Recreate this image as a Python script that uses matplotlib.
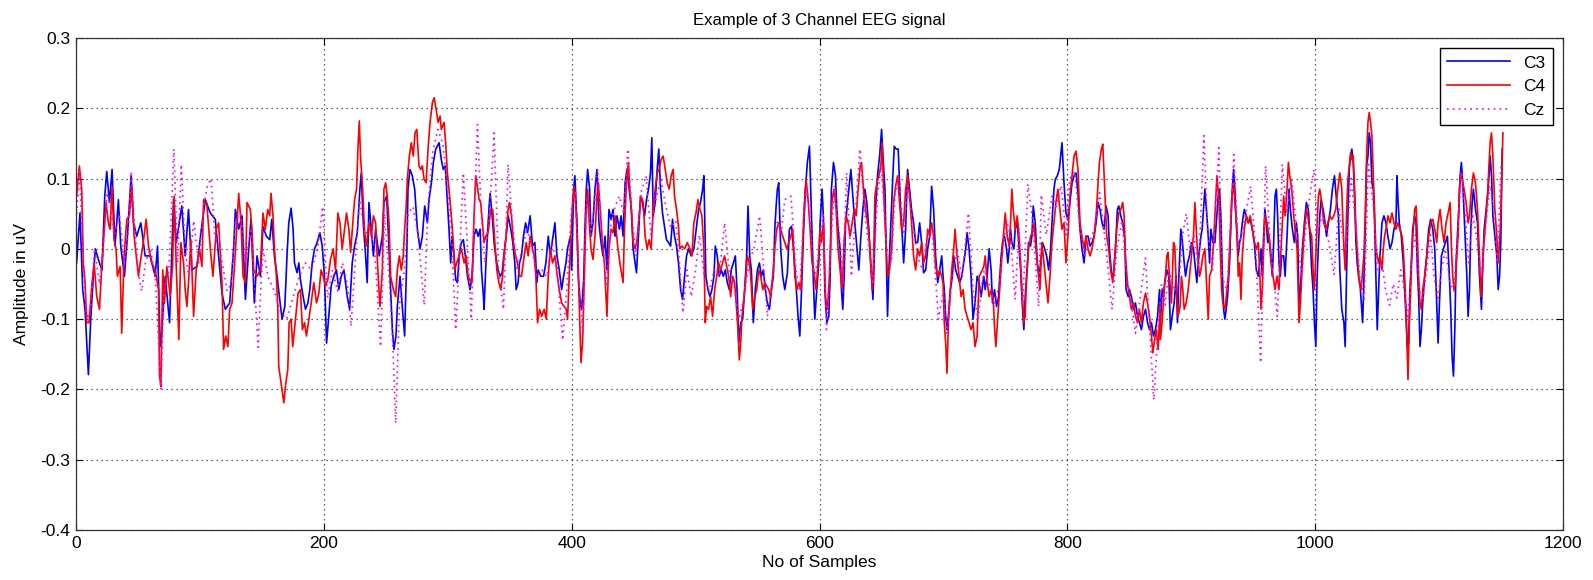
import matplotlib
matplotlib.use("Agg")
import matplotlib.pyplot as plt

plt.rcParams['font.family'] = ['Liberation Sans', 'DejaVu Sans']

title = "Example of 3 Channel EEG signal"
xlabel = "No of Samples"
ylabel = "Amplitude in uV"
channel_names = ["C3", "C4", "Cz"]
xticks = [0, 200, 400, 600, 800, 1000, 1200]
yticks = [-0.4, -0.3, -0.2, -0.1, 0, 0.1, 0.2, 0.3]

# (sample index, amplitude)
c3_points = [
    (0.5,-0.02),(3.2,0.051),(5.4,-0.058),(7.3,-0.086),(10,-0.179),(11.9,-0.10),(14,-0.039),(15.6,0),
    (18.9,-0.02),(21,-0.03),(23.2,0.075),(24.8,0.11),(27,0.066),(29.1,0.113),(31.5,0.004),(34.2,0.07),
    (36.1,0.004),(39.1,-0.039),(41.5,0.018),(44.5,0.104),(46.4,0.037),(49,0.018),(52.3,0.037),(55.8,-0.01),
    (59.8,-0.01),(63.9,-0.039),(65.8,0.004),(67.9,-0.134),(68.5,-0.139),(72,-0.039),(75.5,-0.105),(78.7,0.07),
    (80.9,0.009),(85.4,0.061),(88.1,-0.01),(90.8,0.056),(93.5,-0.03),(97.6,-0.025),(100.8,0.023),(104.3,0.07),
    (108.4,0.051),(112.4,0.042),(115.6,-0.02),(117.8,-0.063),(120.5,-0.086),(124,-0.077),(127.2,0),(128.6,0.056),
    (131.3,0.028),(134,0.047),(136.7,-0.072),(139.4,0),(141.2,0.042),(143.9,-0.077),(146.1,-0.01),(148.8,-0.039),
    (150.9,0.032),(153.6,0.018),(156.3,0.013),(158,0.042),(160.1,-0.01),(162.3,-0.039),(164.4,-0.072),(166.3,-0.1),
    (168.5,-0.082),(170.4,-0.005),(171.7,0.037),(173.6,0.058),(175.2,0.028),(176.3,-0.02),(178.4,-0.034),(179.8,-0.02),
    (181.1,-0.044),(183.3,-0.068),(185.2,-0.086),(187.1,-0.077),(188.7,-0.058),(190.6,-0.02),(192.5,0),(194.6,0.009),
    (196.8,0.023),(198.7,0.004),(200.5,-0.039),(202.2,-0.134),(204,-0.096),(205.9,-0.053),(208.1,-0.039),(210.2,-0.03),
    (212.1,-0.058),(214,-0.039),(216.2,-0.03),(218.9,-0.068),(220.8,-0.086),(222.9,-0.02),(224.8,0.004),(227,0.023),
    (229.1,0.085),(230.2,0.108),(231.8,0.037),(233.7,-0.01),(235,-0.048),(236.4,0.066),(238.3,0.028),(240,-0.01),
    (241.8,0.028),(243.1,0.009),(244.7,-0.01),(247.2,0.018),(248.5,0.066),(250.7,0.075),(252.6,0),(253.9,-0.058),
    (255.3,-0.115),(256.6,-0.143),(258.2,-0.124),(259.3,-0.082),(261.5,-0.039),(263.3,-0.082),(265.2,-0.124),(266.8,-0.02),
    (267.9,0.085),(269.5,0.113),(271.4,0.104),(273.3,0.085),(275.5,0.028),(277.6,0),(279.5,0.018),(281.4,0.061),
    (283.6,0.037),(284.9,0.07),(286.8,0.094),(288.4,0.123),(290.3,0.142),(293,0.151),
    (294.8,0.127),(296.4,0.113),(298,0.118),(299.7,0.066),(301,0.028),(302.4,-0.02),(303.5,0.018),(305.1,-0.01),
    (306.4,-0.044),(307.8,-0.048),(309.4,-0.005),(311,0.009),(312.6,0.013),(314.2,-0.01),(315.9,-0.039),(318,-0.058),
    (319.6,-0.039),(321.2,0.018),(322.9,0.028),(324.5,0.018),(326.1,0.028),(327.2,-0.03),(328.8,-0.068),(329.3,-0.086),
    (330.7,-0.025),(332,0.018),(333.4,0.061),(334.2,0.079),(336.1,0.042),(337.4,0.009),(339,-0.015),(340.6,-0.03),
    (342.3,-0.039),(343.9,-0.034),(345.5,-0.005),(347.1,0.018),(348.7,0.047),(350.9,0.028),(352.5,0.009),(354.1,-0.02),
    (355.2,-0.058),(356.8,-0.048),(357.9,-0.02),(359.5,-0.01),(361.1,0.018),(362.8,0.037),(364.4,0.023),(366.5,0.047),
    (368.4,0.004),(370.3,0.009),(371.9,-0.048),(373,-0.03),(375.1,-0.039),(377.3,-0.039),(379.2,-0.02),(381.1,0.018),
    (382.7,-0.01),(384.6,0.013),(386.5,0.037),(388.1,-0.01),(390,-0.03),(391.9,-0.058),(393.5,-0.039),(395.4,-0.02),
    (396.7,0),(398.9,0.018),(400,-0.03),(401.6,0.085),(402.6,0.104),(404.3,0.037),(405.3,-0.039),(406.9,-0.077),
    (408,-0.086),(409.7,-0.044),(410.7,0.028),(411.8,0.085),(412.9,0.113),(414.5,0.085),(415.6,0.018),(417.2,0.037),
    (418.8,0.085),(420.4,0.113),(422,0.037),(423.7,0.009),(425.3,-0.01),(426.9,0.018),(428.5,-0.03),(430.1,0.056),
    (431.8,0.042),(433.4,0.056),(435,0.018),(436.6,0.047),(438.5,0.028),
    (439.9,0.047),(441.5,0.018),(443.1,0.094),(444.7,0.113),(446.4,0.085),(448,0.061),(449.6,0),(451.2,-0.02),
    (452.3,-0.034),(453.9,0.018),(455.5,0.075),(457.1,0.066),(458.8,0.047),(460.4,0.07),(462,0.085),(463.6,0.108),
    (464.7,0.158),(465.8,0.047),(467.4,0.066),(469,0.113),(470.3,0.142),(471.7,0.085),(473.3,0.051),(474.9,0.032),
    (476.5,0.013),(478.2,0.009),(479.8,0.004),(481.4,0.042),(483,0.018),(484.6,0.004),(486.2,-0.02),(487.9,-0.058),
    (489.5,-0.072),(491.1,-0.039),(492.7,-0.01),(494.3,0),(496.5,-0.01),(498.6,0),(500.5,0.028),(502.4,0.056),
    (504,0.066),(505.7,0.085),(506.7,0.104),(508.3,-0.039),(510,-0.058),(511.6,-0.068),(513.2,-0.058),(514.8,-0.039),
    (515.9,0.004),(517.5,-0.01),(519.1,-0.039),(520.7,-0.03),(522.4,-0.039),(524,-0.03),(525.6,-0.048),(527.2,-0.058),
    (528.8,-0.03),(530.5,-0.02),(532.1,-0.01),(533.7,-0.068),(534.8,-0.134),(536.4,-0.105),(538,-0.1),(539.6,-0.058),
    (541.2,-0.01),(542.3,0.061),(543.7,-0.01),(545,-0.03),(546.6,-0.105),(548.2,-0.058),(549.9,-0.03),(551.5,-0.02),
    (553.1,-0.039),(554.7,-0.03),(556.3,-0.058),(557.9,-0.077),(559.6,-0.086),(561.2,-0.058),(562.8,-0.039),(563.9,0.028),
    (565,0.061),(566,0.085),(567.1,0.094),(568.7,0),(570.3,-0.039),(572,-0.058),(574.1,-0.034),(575.7,0.028),
    (577.4,0.032),(579,0),(580.6,-0.039),(582.7,-0.096),(584.1,-0.124),
    (585.4,-0.063),(587,0.018),(588.6,0.085),(590.2,0.123),(591.9,0.146),(592.9,0.085),(594,0.018),(595.1,-0.048),
    (596.2,-0.1),(597.8,-0.058),(599.4,-0.02),(600.5,0.037),(602.1,0.085),(603.2,0.042),(604.3,-0.058),(605.9,-0.105),
    (607.5,-0.096),(608.6,-0.039),(609.6,0.085),(611.3,0.123),(612.9,0.104),(614,0.056),(615,0.028),(616.6,0),
    (617.7,-0.058),(618.8,-0.086),(619.9,-0.039),(621,0.037),(622.6,0.066),(624.2,0.094),(625.3,0.113),(626.9,0.075),
    (628.5,0.037),(630.1,0.004),(631.7,-0.03),(633.4,0.018),(635,0.056),(636.6,0.085),(638.2,0.066),(639.8,0.028),
    (640.9,-0.01),(642,-0.039),(643.1,-0.072),(644.1,-0.02),(645.2,0.056),(646.8,0.104),(648.5,0.132),(650.1,0.17),
    (651.2,0.132),(652.8,0.085),(653.9,-0.01),(654.9,-0.096),(656,-0.03),(657.6,0.037),(659.2,0.104),(660.3,0.146),
    (661.9,0.142),(663.5,0.142),(665.2,0.066),(666.8,0.018),(667.9,-0.02),(669.5,0.028),(671.1,0.113),(672.7,0.085),
    (674.3,0.056),(675.9,0.037),(677.6,0.009),(679.2,0.009),(680.8,0.037),(682.4,0.009),(684,-0.034),(685.7,-0.03),
    (687.3,0),(688.9,0.018),(690.5,0.089),(692.1,0.056),(693.7,-0.01),(695.4,-0.048),(697,-0.03),(698.6,-0.01),
    (699.7,-0.039),(700.7,-0.058),(701.8,-0.096),(702.9,-0.115),(704,-0.096),(705.6,-0.058),(707.2,-0.039),(708.3,-0.01),
    (709.9,-0.03),(711.5,-0.039),(713.1,-0.048),(714.8,-0.039),(716.4,-0.02),(718,0),(719.1,0.023),(720.7,0),
    (722.3,-0.039),(723.9,-0.1),(725.5,-0.077),(727.2,-0.039),(728.8,-0.048),(730.4,-0.068),
    (732.6,-0.039),(733.7,-0.058),(735.3,-0.039),(736.9,0),(738.5,-0.03),(739.6,-0.077),(741.2,-0.058),(742.9,-0.082),
    (744.5,-0.068),(745.5,-0.039),(746.6,-0.01),(747.7,0.009),(749.3,0.018),(750.9,0),(752,-0.02),(753.1,0),
    (754.2,0.028),(755.2,0.009),(756.9,0),(757.9,0.028),(759.6,0.037),(760.6,0.013),(762.3,-0.03),(763.3,-0.068),
    (764.9,-0.115),(766,-0.068),(767.6,-0.03),(768.7,0.009),(770.3,0.004),(771.4,0.018),(772.5,0.061),(774.1,0.037),
    (775.7,-0.02),(777.3,-0.039),(779,-0.01),(780,0.009),(781.7,0),(783.3,-0.01),(784.9,-0.03),(786.5,0),
    (787.6,0.037),(789.2,0.085),(790.3,0.099),(791.9,0.104),(793.5,0.113),(794.6,0.132),(795.7,0.151),(797.3,0.094),
    (798.9,0.051),(800.5,0.042),(802.1,0.066),(803.8,0.094),(805.4,0.104),(807,0.108),(808.6,0.079),(810.2,0.028),
    (811.8,0),(813.5,-0.02),(815.1,0.018),(816.7,0.018),(818.3,0.004),(819.9,0.009),(821.6,0.018),(823.2,0.037),
    (824.8,0.066),(826.4,0.056),(828,0.037),(829.6,0.028),(831.3,0.061),(832.9,0.047),(834,0),(835.6,-0.034),
    (837.2,-0.039),(838.8,0),(840.4,0.056),(841.5,0.061),(843.1,0.047),(844.7,0.037),(846.4,0.013),(847.4,-0.058),
    (849.1,-0.068),(850.1,-0.058),(851.7,-0.068),(853.4,-0.086),(855,-0.077),(856.6,-0.096),(858.2,-0.105),(859.8,-0.115),
    (861.4,-0.096),(863.1,-0.086),(864.7,-0.105),(866.3,-0.115),(867.9,-0.105),(869.5,-0.124),(871.1,-0.115),(872.8,-0.096),
    (874.4,-0.058),(875.1,-0.105),(876.5,-0.058),
    (877.6,-0.068),(878.6,-0.048),(880.3,-0.03),(881.9,-0.039),(883.2,-0.115),(884.6,-0.096),(886.2,-0.077),(887.8,-0.039),
    (888.9,-0.105),(890,-0.039),(891.6,0.028),(892.7,0.013),(894.3,-0.02),(895.4,-0.039),(897,-0.02),(898.6,-0.01),
    (900.2,0.009),(901.8,0),(902.9,-0.02),(904.5,-0.048),(906.1,-0.01),(907.8,0.018),(908.8,0.028),(909.9,0.056),
    (911,0.085),(912.6,0.047),(913.7,0.018),(914.8,-0.02),(915.8,0.028),(917.5,0.009),(919.1,0.009),(920.2,0.037),
    (921.8,0.075),(922.8,0.085),(923.9,0.047),(925,-0.03),(926.1,-0.086),(927.2,-0.1),(928.2,-0.086),(929.3,-0.068),
    (930.9,-0.02),(932,0.037),(933.1,0.085),(934.2,0.113),(935.2,0.085),(936.3,0.037),(937.9,-0.01),(939,0.009),
    (940.1,0.018),(941.2,0.037),(942.8,0.056),(944.4,0.047),(946,0.037),(947.6,0.042),(949.3,0.028),(950.9,0.009),
    (952.5,-0.03),(954.1,-0.039),(955.2,-0.02),(956.3,0),(957.3,-0.039),(958.4,0.018),(959.5,0.056),(960.6,0.037),
    (961.7,0.009),(962.7,0.018),(964.4,-0.01),(965.4,-0.039),(966.5,0.009),(967.6,0.075),(968.7,0.085),(969.7,0.047),
    (970.8,-0.02),(971.9,-0.039),(973,-0.01),(974.6,-0.01),(975.7,-0.039),(977.3,0.018),(978.9,0.085),(980,0.056),
    (981.6,0.028),(983.2,0.009),(984.8,0.037),(985.9,0.018),(987,-0.077),(988.1,-0.058),(989.7,0),(991.3,0.037),
    (992.9,0.066),(994.5,0.056),(996.2,0.009),(997.2,-0.03),(998.3,-0.058),(999.4,-0.105),(1000.5,-0.139),(1001.6,-0.039),
    (1002.6,0.004),(1003.7,0.047),(1004.8,0.07),(1006.4,0.056),(1008,0.037),(1009.1,0.018),(1010.7,0.037),(1012.3,0.056),
    (1013.9,0.085),(1015.6,0.104),(1017.2,0.07),(1018.8,0.047),(1019.9,-0.03),(1021.5,-0.086),
    (1023.2,-0.105),(1024.2,-0.139),(1025.3,-0.039),(1026.4,0.047),(1027.5,0.113),(1028.6,0.132),(1029.6,0.142),(1030.7,0.123),
    (1031.8,0.075),(1032.9,0.009),(1033.9,-0.02),(1035,-0.039),(1036.1,-0.048),(1037.2,-0.077),(1038.3,-0.105),(1039.3,-0.048),
    (1040.4,0.028),(1041.5,0.118),(1042.6,0.132),(1043.6,0.165),(1044.7,0.151),(1045.8,0.094),(1046.9,0.085),(1048,0.037),
    (1049,-0.039),(1050.1,-0.115),(1051.2,-0.058),(1052.3,-0.01),(1053.9,0.037),(1055.5,0.047),(1057.1,0.037),(1058.7,0.018),
    (1060.4,0),(1062,0.009),(1063.6,0.028),(1065.2,0.037),(1066,0.104),(1066.8,0.07),(1067.9,0.037),(1069.5,0.018),
    (1071.1,-0.02),(1072.2,-0.058),(1073.3,-0.096),(1074.4,-0.139),(1075.5,-0.134),(1076.5,-0.058),(1077.6,-0.02),(1078.7,0.028),
    (1080.3,0.047),(1081.4,0.037),(1082.5,-0.03),(1083.5,-0.068),(1084.6,-0.139),(1085.7,-0.115),(1086.8,-0.077),(1088.4,-0.039),
    (1090,-0.01),(1091.6,0.028),(1093.2,0.042),(1094.9,0.028),(1096.5,0),(1098.1,-0.077),(1099.2,-0.134),(1100.3,-0.077),
    (1101.9,-0.01),(1103.5,0),(1105.1,0.009),(1106.7,0.018),(1108.3,-0.039),(1109.4,-0.086),(1110.5,-0.153),(1111.6,-0.181),
    (1112.7,-0.115),(1113.7,-0.02),(1114.8,0.018),(1115.9,0.056),(1117,0.104),(1118,0.123),(1119.1,0.094),(1120.7,0.028),
    (1122.4,-0.039),(1123.4,-0.096),(1124.5,-0.058),(1125.6,0.028),(1126.7,0.066),(1127.7,0.085),(1129.4,0.056),(1131,0.037),
    (1132.6,-0.039),(1134.2,-0.086),(1135.3,-0.02),(1136.4,0.028),(1138,0.056),(1139.6,0.085),(1141.2,0.132),(1142.3,0.104),
    (1143.4,0.047),(1145,0.018),(1146.6,-0.01),(1147.7,-0.058),(1148.8,-0.039),(1149.8,0.009),(1150.9,0.142),
]

c4_points = [
    (0.5,0.075),(2.7,0.118),(4.6,0.085),(5.9,-0.02),(7.3,-0.048),(8.6,-0.105),(10.5,-0.105),(12.7,-0.053),
    (14.6,-0.02),(16.7,-0.067),(18.9,-0.086),(20.8,-0.025),(22.1,0.009),(24.3,0.066),(26.1,0.037),(27.5,0.028),
    (29.1,0.089),(30.7,0.013),(32.3,0),(33.4,-0.039),(35.6,-0.025),(36.9,-0.12),(38.8,-0.01),(41,0.042),
    (43.1,0.047),(45,0.089),(46.9,0.018),(50.4,-0.039),(51.8,-0.02),(53.9,0.004),(56.6,0.042),(58.5,0.004),
    (61.2,-0.02),(63.9,-0.03),(66.6,-0.058),(67.4,-0.181),(68.5,-0.196),(70,-0.03),(71.4,-0.077),(73.3,-0.025),
    (76,-0.067),(77.9,-0.025),(79.2,0.075),(80.9,-0.025),(82.2,-0.091),(83,-0.129),(84.6,0.009),(86.8,-0.02),
    (88.1,-0.058),(89.5,-0.082),(90.8,-0.048),(92.7,0.013),(94.9,-0.096),(97,-0.03),(99.7,0),(101.6,-0.025),
    (103,0.07),(105.7,0.061),(108.4,0),(110.5,-0.039),(113.2,0.028),(115.1,0.037),(117.8,-0.048),(119.1,-0.143),
    (120.8,-0.124),(122.6,-0.139),(124,-0.086),(125.9,-0.077),(128.6,-0.005),(131.3,0.079),(133.2,0.037),(134.8,-0.039),
    (136.7,-0.048),(138,0.066),(140.7,0.056),(142,0.028),(143.4,-0.03),(146.1,-0.039),(148.8,-0.03),
    (150.9,0.051),(152.8,0.028),(154.7,0.056),(156.3,0.047),(157.4,0.079),(159,0.047),(160.1,0),(161.7,-0.039),
    (162.8,-0.082),(163.6,-0.167),(165.5,-0.191),(167.7,-0.219),(169.3,-0.191),(170.9,-0.172),(172,-0.105),(173.6,-0.1),
    (174.9,-0.139),(176.3,-0.115),(177.9,-0.086),(179.2,-0.063),(181.1,-0.058),(182.7,-0.115),(184.4,-0.105),(186,-0.124),
    (187.9,-0.1),(189.8,-0.077),(191.9,-0.048),(194.1,-0.077),(196,-0.063),(197.8,-0.03),(199.5,-0.039),(201.3,-0.053),
    (203.2,-0.044),(205.4,-0.015),(207.5,0),(209.4,-0.03),(211.3,0.051),(213,0.037),(214.8,0),(216.7,0.028),
    (218.3,0.051),(220.2,0.028),(221.6,-0.005),(223.2,0.032),(224.8,0.07),(226.4,0.085),(227.5,0.142),(228.6,0.182),
    (229.6,0.132),(231.3,0.085),(232.9,0.023),(234.5,0.004),(236.4,0.037),(238.3,0.018),(240,0.047),(241.8,0.037),
    (243.7,-0.034),(245.3,-0.082),(247.2,-0.03),(248.5,0.085),(249.9,0.094),(251.2,0.075),(252.6,0.037),(253.9,-0.039),
    (256.1,-0.058),(258,-0.068),(259.3,-0.03),(260.9,-0.01),(262.5,-0.03),(264.1,-0.01),(265.2,0.028),(266.3,0.056),
    (267.4,0.099),(269,0.132),(270.6,0.151),(272.2,0.132),(273.6,0.165),(275,0.17),(276.8,0.118),(278.2,0.113),
    (279.5,0.118),(280.9,0.099),(282.5,0.094),(284.1,0.142),(285.7,0.18),(287.6,0.208),(289,0.215),(290.6,0.199),
    (292.2,0.18),(293.8,0.189),
    (294.8,0.17),(297,0.18),(298.3,0.151),(299.7,0.108),(301,0.085),(302.9,0.047),(304.5,0.009),(305.6,-0.03),
    (307.2,-0.02),(309.1,-0.01),(311,0),(313.2,-0.02),(314.8,-0.01),(316.4,-0.039),(318,-0.044),(319.6,-0.048),
    (321.2,0.047),(322.6,0.104),(323.9,0.089),(325.3,0.07),(326.6,0.066),(328,0.037),(329.3,0.009),(330.7,0.018),
    (332.6,0.023),(334.7,0.056),(336.3,0.056),(338,0.009),(339.6,-0.03),(341.2,-0.048),(342.8,-0.058),(344.2,-0.039),
    (345.5,-0.01),(347.1,0.018),(348.7,0.056),(349.8,0.066),(351.4,0.047),(353,0.009),(354.7,-0.01),(356.3,-0.02),
    (357.9,-0.039),(359.5,-0.039),(361.7,-0.01),(363.3,0.009),(364.9,-0.01),(366.5,0.018),(368.4,0),(369.8,-0.01),
    (371.1,-0.039),(372.5,-0.105),(374.1,-0.086),(375.7,-0.096),(377.8,-0.086),(379.5,-0.1),(381.1,-0.039),(382.7,0),
    (384.6,-0.02),(386.5,-0.01),(388.1,-0.034),(390,-0.058),(391.9,-0.077),(394,-0.082),(395.6,-0.086),(396.7,-0.1),
    (398,-0.039),(399.4,0.018),(400.8,0.07),(402.1,0.089),(403.5,0.056),(404.8,0),(406.1,-0.077),(407.5,-0.162),
    (408.8,-0.134),(410.2,-0.039),(411.5,0.047),(412.9,0.085),(414.2,0.037),(415.6,0),(417.2,-0.015),(418.8,0.018),
    (420.4,0.075),(421.5,0.094),(423.1,0.056),(424.7,0.009),(426.4,-0.02),(427.4,-0.058),(428.5,-0.096),(430.1,0),
    (431.8,0.028),(433.4,0.023),(435,0.047),(437.1,0.004),(439.3,-0.025),
    (441.5,-0.048),(442.6,0.028),(444.2,0.094),(445.8,0.123),(446.9,0.085),(448.5,0.047),(449.6,0.009),(451.2,0),
    (452.8,0.013),(454.4,0.047),(456.1,0.075),(457.7,0.066),(459.3,0.018),(460.9,0),(462.5,0.013),(464.1,0),
    (465.8,0.056),(467.4,0.085),(469,0.108),(470.6,0.113),(472.2,0.127),(473.8,0.132),(475.5,0.113),(477.1,0.094),
    (478.7,0.085),(480.3,0.104),(481.9,0.113),(483,0.075),(484.6,0.056),(486.2,0.032),(487.3,0),(489,0.004),
    (491.1,0),(493.3,0.009),(495.4,0),(497,-0.01),(498.6,0.037),(500.3,0.051),(501.9,0.07),(503.5,0.056),
    (505.1,0.047),(506.7,0),(507.8,-0.105),(508.9,-0.082),(510.5,-0.086),(512.1,-0.068),(513.7,-0.096),(515.4,-0.058),
    (517,-0.039),(518.6,-0.02),(520.2,-0.03),(521.8,-0.02),(523.4,-0.01),(525.1,-0.025),(526.7,-0.039),(528.3,-0.068),
    (529.9,-0.039),(531.5,-0.048),(533.1,-0.086),(534.2,-0.115),(535.3,-0.158),(536.4,-0.134),(537.5,-0.096),(539.1,-0.068),
    (540.2,-0.048),(541.8,-0.01),(543.4,-0.02),(544.5,-0.039),(546.1,-0.086),(547.7,-0.068),(549.3,-0.058),(550.9,-0.03),
    (552.6,-0.039),(554.2,-0.058),(555.8,-0.048),(557.4,-0.053),(559,-0.058),(560.6,-0.068),(562.3,-0.039),(563.9,0),
    (565.5,0.028),(567.1,0.037),(568.7,0.028),(570.3,0.018),(572,0.009),(573.6,0),(575.2,0.009),(576.8,0.018),
    (578.4,0.028),(580.1,-0.039),(581.7,-0.058),(583.3,-0.048),(584.9,-0.058),
    (585.9,-0.02),(587.5,0.056),(589.2,0.099),(590.8,0.07),(592.4,0.028),(594,-0.02),(595.6,-0.034),(597.2,-0.058),
    (598.9,-0.02),(600.5,0.028),(601.6,0.009),(603.2,0.037),(604.8,-0.068),(606.4,-0.086),(608,-0.039),(609.1,0.018),
    (610.2,0.07),(611.8,0.085),(613.4,0.056),(615,0),(616.6,-0.03),(618.3,-0.058),(619.9,0.013),(621.5,0.047),
    (623.1,0.037),(624.7,0.018),(626.4,0.037),(628,0.056),(629.6,0.047),(631.2,0.085),(632.8,0.118),(633.9,0.123),
    (635.5,0.085),(637.1,0.056),(638.8,0.037),(640.4,0.009),(641.4,-0.02),(642.5,-0.058),(643.6,-0.02),(644.7,0.075),
    (646.3,0.094),(647.9,0.104),(649.5,0.118),(650.6,0.151),(651.7,0.085),(653.3,0.023),(654.9,-0.039),(656.5,-0.03),
    (658.2,0),(659.8,0.066),(661.4,0.089),(663,0.104),(664.6,0.066),(666.2,0.028),(667.9,0.037),(669.5,0.085),
    (671.1,0.104),(672.7,0.075),(674.3,0.037),(675.9,-0.01),(677.6,-0.03),(679.2,0),(680.8,-0.01),(682.4,0.009),
    (684,-0.02),(685.7,-0.01),(687.3,0.028),(688.9,0.018),(690.5,0.037),(692.1,0.018),(693.7,-0.025),(695.4,-0.039),
    (697,-0.03),(698.6,-0.039),(699.7,-0.048),(700.7,-0.105),(701.8,-0.134),(702.9,-0.177),(704,-0.105),(705.6,-0.058),
    (706.7,-0.03),(708.3,0),(709.4,0.028),(711,-0.01),(712.6,-0.039),(714.3,-0.068),(715.9,-0.058),(717.5,-0.086),
    (719.1,-0.096),(720.7,-0.105),(722.3,-0.115),(723.9,-0.105),(725.5,-0.139),(727.2,-0.124),(728.8,-0.039),(730.4,-0.034),
    (732.6,-0.025),(733.7,-0.01),(735.3,-0.048),(736.9,-0.068),(738.5,-0.058),(740.2,-0.072),(741.2,-0.11),(742.3,-0.139),
    (743.9,-0.096),(745,-0.068),(746.1,-0.039),(747.7,0),(748.8,0.028),(749.9,0.051),(751.5,0.018),(753.1,0.004),
    (754.2,0.037),(755.2,0.085),(756.3,0.056),(757.9,0.028),(759.6,0.047),(761.2,0.013),(762.8,-0.039),(763.9,-0.077),
    (764.9,-0.105),(766,-0.096),(767.1,-0.039),(768.7,0),(770.3,0.018),(771.9,0.023),(773,0.037),(774.7,0),
    (776.3,-0.03),(777.9,-0.058),(779.5,0.009),(781.1,-0.02),(782.7,-0.048),(784.4,-0.077),(786,-0.039),(787.6,0.009),
    (789.2,0.037),(790.8,0.066),(792.4,0.085),(794,0.056),(795.7,0.028),(797.3,0.037),(798.9,-0.02),(800.5,0.018),
    (802.1,0.075),(803.8,0.104),(805.4,0.132),(807,0.139),(808.6,0.113),(810.2,0.037),(811.8,0.018),(813.5,0),
    (815.1,0.018),(816.7,0),(818.3,-0.01),(819.9,0),(821.6,0.018),(823.2,0.047),(824.8,0.094),(825.9,0.123),
    (827.5,0.142),(828.6,0.149),(830.2,0.085),(831.8,0.018),(833.4,0),(835,-0.03),(836.6,-0.048),(838.3,-0.01),
    (839.9,0.028),(841.5,0.051),(843.1,0.056),(844.7,0.066),(845.8,0.047),(846.9,-0.01),(848.5,-0.048),(850.1,-0.068),
    (851.7,-0.086),(853.4,-0.077),(855,-0.096),(856.6,-0.105),(858.2,-0.086),(859.8,-0.105),(861.4,-0.077),(863.1,-0.063),
    (864.7,-0.077),(866.3,-0.096),(867.9,-0.124),(869,-0.148),(870.1,-0.134),(871.7,-0.115),(873.3,-0.143),(874.9,-0.077),
    (875.1,-0.129),(876.5,-0.105),
    (878.1,-0.058),(879.2,-0.039),(880.3,-0.01),(881.3,-0.005),(882.4,-0.039),(884,-0.077),(885.7,0.009),(886.7,0.004),
    (888.3,-0.068),(889.4,-0.096),(891,-0.082),(892.1,-0.039),(893.2,-0.058),(894.3,-0.086),(895.9,-0.077),(897.5,-0.058),
    (899.1,-0.03),(900.7,0),(901.8,0.018),(902.9,0.066),(904,0.028),(905.6,-0.02),(906.7,-0.039),(907.8,-0.03),
    (909.4,-0.01),(911,0),(912.6,-0.058),(913.7,-0.1),(914.8,-0.039),(916.4,-0.03),(918,0.009),(919.1,0.047),
    (920.7,0.104),(922.3,0.07),(923.4,0),(924.5,-0.058),(925.5,-0.077),(927.2,-0.086),(928.2,-0.068),(929.9,-0.039),
    (931.5,0.018),(932.6,0.07),(934.2,0.094),(935.2,0.066),(936.9,0.028),(937.9,-0.039),(939,-0.02),(940.1,-0.072),
    (941.2,-0.01),(942.8,0.028),(944.4,0.047),(946,0.037),(947.6,0.047),(949.3,0.028),(950.9,0.009),(952.5,0),
    (954.1,0.009),(955.2,-0.03),(956.3,-0.086),(957.3,-0.058),(958.4,0),(959.5,0.047),(961.1,0.037),(962.7,0.018),
    (964.4,-0.02),(966,-0.039),(967.6,-0.058),(969.2,-0.039),(970.8,-0.058),(971.9,-0.02),(973.5,0.037),(974.6,0.075),
    (975.7,0.047),(977.3,0.085),(978.4,0.123),(979.5,0.104),(981.1,0.085),(982.7,0.047),(984.3,0.018),(985.4,0),
    (987,-0.105),(988.1,-0.077),(989.7,-0.02),(991.3,0.028),(992.9,0.056),(994,0.047),(995.6,0.028),(997.2,0.018),
    (998.3,-0.03),(999.4,-0.058),(1000.5,-0.01),(1001.6,0.037),(1002.6,0.075),(1003.7,0.085),(1005.3,0.066),(1006.9,0.037),
    (1008.6,0.028),(1010.2,0.037),(1011.8,0.047),(1013.4,0.042),(1015,0.047),(1016.6,0.056),(1018.3,0.085),(1019.9,0.108),
    (1021.5,0.085),
    (1022.1,0.051),(1023.2,0),(1024.2,-0.03),(1025.3,0.047),(1026.4,0.099),(1027.5,0.118),(1028.6,0.137),(1029.6,0.127),
    (1030.7,0.132),(1031.8,0.085),(1032.9,0.028),(1034.5,-0.02),(1035.6,-0.048),(1037.2,-0.058),(1038.3,-0.03),(1039.3,-0.01),
    (1040.4,0.047),(1041.5,0.132),(1042.6,0.18),(1043.6,0.194),(1044.7,0.18),(1045.8,0.161),(1046.9,0.104),(1048,0.051),
    (1049,0),(1050.1,-0.01),(1051.2,-0.02),(1052.3,-0.01),(1053.9,-0.03),(1055,0),(1056,0.018),(1057.1,0.028),
    (1058.7,0.047),(1060.4,0.037),(1062,0.051),(1063.6,0.037),(1065.2,0.028),(1066.8,0.037),(1068.4,0.028),(1070.1,0.018),
    (1071.1,0),(1072.2,-0.039),(1073.3,-0.086),(1074.4,-0.153),(1074.9,-0.186),(1076,-0.105),(1077.1,-0.058),(1078.2,0),
    (1079.2,0.028),(1080.3,0.056),(1081.4,0.061),(1082.5,0.018),(1083.5,-0.039),(1084.6,-0.077),(1085.7,-0.086),(1086.8,-0.058),
    (1088.4,-0.039),(1090,-0.01),(1091.6,0.018),(1093.2,0.037),(1094.9,0.042),(1096.5,0.028),(1098.1,0.009),(1099.2,0.037),
    (1100.8,0.056),(1102.4,0.028),(1104,0.009),(1105.6,0.037),(1107.3,0.051),(1108.9,0.066),(1110,0),(1111,-0.039),
    (1112.1,-0.058),(1113.2,-0.048),(1114.3,-0.01),(1115.3,0.018),(1116.4,0.085),(1117.5,0.108),(1118.6,0.099),(1120.2,0.085),
    (1121.8,0.066),(1123.4,0.037),(1124.5,0.047),(1126.1,0.085),(1127.7,0.108),(1129.4,0.094),(1131,0.056),(1132.6,-0.01),
    (1133.7,-0.068),(1134.8,-0.039),(1135.8,0),(1137.5,0.037),(1139.1,0.075),(1140.1,0.113),(1141.2,0.151),(1142.3,0.165),
    (1143.4,0.132),(1145,0.056),(1146.6,0.018),(1147.7,-0.02),(1148.8,0.009),(1149.8,0.047),(1151.5,0.165),
]

cz_points = [
    (0.5,0.05),(3,0.11),(6,-0.03),(9,-0.1),(12,-0.08),(15,0.0),(19,-0.05),(22,0.0),(25,0.08),(28,0.06),
    (31,0.02),(35,0.05),(39,-0.02),(42,0.02),(44.5,0.11),(47,0.04),(50,-0.03),(53,-0.06),(56,-0.02),(60,0.0),
    (64,-0.04),(68.5,-0.2),(71,-0.06),(75,-0.03),(79,0.142),(82,-0.02),(85,0.12),(88,0.0),(91,-0.04),(95,0.04),
    (99,-0.02),(103,0.06),(106,0.09),(109,0.1),(112,0.02),(116,0.0),(119,-0.03),(122,-0.06),(125,-0.05),(129,0.04),
    (133,0.05),(137,-0.02),(141,0.03),(144,-0.05),(147,-0.14),(149,-0.06),
    (151,0.0),(155,-0.04),(160,-0.06),(165,-0.09),(170,-0.1),(175,-0.07),(180,-0.04),(185,-0.02),(190,-0.03),(195,0.0),
    (199,0.06),(203,-0.07),(207,-0.03),(211,-0.06),(215,-0.02),(219,-0.05),(222,-0.11),(226,0.0),(229,0.07),(233,0.02),
    (237,0.03),(241,0.0),(245.8,-0.139),(249,0.05),(253,-0.05),(256,-0.15),(258,-0.248),(261,-0.08),(265,-0.03),(268,0.05),
    (272,0.06),(276,0.02),(281,-0.08),(284,0.06),(288,0.14),(292,0.17),
    (296,0.15),(300,0.08),(303,0.02),(306.4,-0.115),(309,-0.03),(312.6,0.108),(316,0.0),(319,-0.1),(322,0.08),(324,0.177),
    (327,0.05),(330,-0.02),(334,0.06),(337.4,0.165),(341,-0.03),(345,-0.086),(348.7,0.12),(352,0.04),(356,-0.03),(360,0.0),
    (364,0.03),(368,0.0),(372,-0.04),(376,-0.03),(380,-0.04),(384,0.01),(388,-0.02),(392.7,-0.13),(396,-0.06),(400,0.06),
    (403,0.08),(406,-0.05),(409,-0.12),(412,0.07),(416,0.02),(421,0.113),(424,0.03),(428,-0.05),(432,0.04),(435,0.06),
    (438.5,0.075),
    (442,0.05),(445.3,0.142),(449,0.04),(452,-0.01),(456,0.08),(460,0.104),(464,0.02),(468,0.07),(472,0.1),(476,0.06),
    (480,0.03),(484,0.04),(487,-0.02),(489.8,-0.091),(493,-0.03),(496.5,-0.068),(500,-0.03),(503,0.02),(507,-0.04),(511,-0.06),
    (515,-0.03),(519,-0.04),(523.4,0.037),(527,-0.03),(531,-0.05),(535,-0.1),(539,-0.07),(543,-0.02),(547,0.0),(551.7,0.047),
    (555,-0.03),(558,-0.096),(562,-0.04),(566,0.04),(569,0.02),(572,0.07),(577,0.075),(581,-0.03),(584,-0.06),
    (587,0.04),(590,0.09),(593,0.03),(596,-0.04),(600,0.0),(603,0.05),(605.6,-0.115),(609,0.0),(612,0.09),(616,0.02),
    (619,-0.05),(621.8,0.108),(625.8,-0.039),(629,0.05),(632.6,0.142),(636,0.06),(640,0.0),(643,-0.05),(647,0.08),(650,0.12),
    (654,0.0),(658,-0.02),(661,0.08),(664,0.1),(668,0.02),(671,0.09),(675,0.04),(679,-0.01),(683,-0.03),(687,0.02),
    (691,0.03),(695.9,-0.1),(700,-0.06),(703,-0.12),(707,-0.04),(711,0.0),(715,-0.04),(720.2,0.051),(724,-0.06),(728,-0.1),
    (731,-0.05),
    (733,-0.03),(737,-0.05),(741,-0.08),(745,-0.05),(748,0.0),(751,0.04),(754,0.02),(757.9,-0.072),(761,0.03),(764,-0.08),
    (768.2,0.092),(772,0.04),(776.8,-0.082),(779,0.077),(783,0.02),(787.6,0.075),(791,0.06),(795,0.09),(799,0.02),(802,0.1),
    (806,0.11),(810,0.03),(814,-0.01),(818,0.01),(822,0.03),(826,0.08),(830,0.02),(833,-0.03),(836.1,-0.086),(840,0.0),
    (844,0.04),(848,-0.04),(851,-0.07),(855,-0.12),(858,-0.08),(863,-0.013),(866,-0.1),(869.8,-0.215),(873,-0.12),(876,-0.05),
    (879,-0.08),(882,-0.03),(886,-0.06),(890,-0.05),(893,0.02),(896,0.05),(899,0.0),(902,0.02),(906,-0.03),(910.2,0.161),
    (913,0.03),(917,-0.03),(922.3,0.144),(925,-0.04),(929,-0.06),(934.4,0.134),(938,0.0),(942,0.03),(947.9,0.089),(952,0.0),
    (956,-0.162),(960,0.118),(964,0.0),(969.5,-0.096),(973.5,0.12),(977,0.05),(981,0.1),(985,0.03),(989,-0.04),(993,0.04),
    (996,0.08),(999,0.113),(1002,0.02),(1006,0.05),(1010,0.02),(1015.3,-0.037),(1019,0.06),(1022,0.02),
    (1025,0.0),(1029,0.1),(1033,0.03),(1036,-0.04),(1039.6,-0.072),(1043,0.12),(1047,0.06),(1050,-0.03),(1054,-0.02),(1057,-0.06),
    (1060,-0.08),(1063,-0.05),(1066,-0.07),(1069,-0.03),(1072,-0.06),(1075,-0.1),(1078,-0.01),(1081,0.02),(1084,-0.06),(1087,-0.07),
    (1090,-0.03),(1093,0.02),(1096,-0.04),(1099,-0.07),(1102,-0.03),(1105,0.0),(1109,-0.05),(1112,-0.06),(1115,0.03),(1118,0.11),
    (1121,0.05),(1124,-0.02),(1127,0.05),(1130,0.02),(1134,-0.04),(1138,0.04),(1141,0.09),(1144,0.06),(1147,-0.02),(1150,0.12),
]

W, H = 1593, 580
fig = plt.figure(figsize=(W / 100, H / 100), dpi=100)
ax = fig.add_axes([76 / W, 50 / H, (1563 - 76) / W, (530 - 38) / H])

colors = ["#0000ff", "#ff0000", "#ff00ff"]
styles = ["-", "-", (0, (1, 2.5))]
for pts, name, col, ls in zip([c3_points, c4_points, cz_points], channel_names, colors, styles):
    xs = [p[0] for p in pts]
    ys = [p[1] for p in pts]
    ax.plot(xs, ys, color=col, linestyle=ls, linewidth=1.2, label=name)

ax.set_xlim(0, 1200)
ax.set_ylim(-0.4, 0.3)
ax.set_xticks(xticks)
ax.set_yticks(yticks)
ax.set_xticklabels([str(t) for t in xticks])
ax.set_yticklabels(["%g" % t for t in yticks])
ax.grid(True, color="black", linestyle=(0, (1, 3)), linewidth=0.9, alpha=0.8)
ax.tick_params(direction="in", length=5, width=0.8, top=True, right=True,
               labelsize=12.5, colors="black", pad=4)
for s in ax.spines.values():
    s.set_linewidth(0.9)
    s.set_color("#333333")

ax.set_title(title, fontsize=12, pad=9)
ax.set_xlabel(xlabel, fontsize=12.5, labelpad=3)
ax.set_ylabel(ylabel, fontsize=12.5, labelpad=8)

leg = ax.legend(loc="upper right", fontsize=12.5, frameon=True, fancybox=False,
                edgecolor="black", framealpha=1, borderaxespad=0.6,
                handlelength=3.6, handletextpad=0.8, labelspacing=0.5,
                borderpad=0.4)
leg.get_frame().set_linewidth(1.0)

fig.savefig("out.png", dpi=100)
